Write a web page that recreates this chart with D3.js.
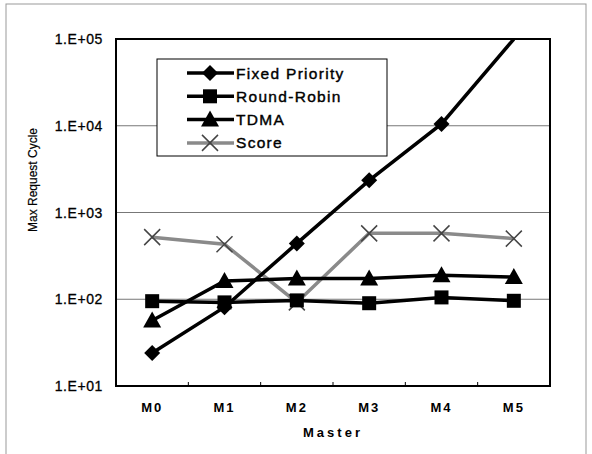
<!DOCTYPE html>
<html>
<head>
<meta charset="utf-8">
<script src="https://cdn.jsdelivr.net/npm/d3@7"></script>
<style>
  body { margin: 0; background: #fff; }
  text { font-family: Arial, "Liberation Sans", sans-serif; }
</style>
</head>
<body>
<svg id="svg" width="592" height="454"></svg>
<script>
// data
var masters = ['M0', 'M1', 'M2', 'M3', 'M4', 'M5'];
var fixedPriority = [24, 81, 440, 2350, 10500, 100000];
var roundRobin = [95, 92, 97, 90, 105, 96];
var tdma = [57, 162, 174, 174, 189, 180];
var score = [520, 430, 92, 575, 575, 500];
var yTicks = [1e1, 1e2, 1e3, 1e4, 1e5];
var tickLabels = ['1.E+01', '1.E+02', '1.E+03', '1.E+04', '1.E+05'];

var seriesList = [
  {name: 'Fixed Priority', values: fixedPriority, color: '#000', marker: 'diamond'},
  {name: 'Round-Robin', values: roundRobin, color: '#000', marker: 'square'},
  {name: 'TDMA', values: tdma, color: '#000', marker: 'triangle'},
  {name: 'Score', values: score, color: '#8a8a8a', marker: 'cross'}
];

var svg = d3.select('svg');

// outer frame
svg.append('rect')
  .attr('x', 6).attr('y', 4)
  .attr('width', 580).attr('height', 452)
  .attr('fill', 'none')
  .attr('stroke', '#999')
  .attr('stroke-width', 1);

var plotLeft = 116, plotTop = 39, plotRight = 550, plotBottom = 386;

var xScale = d3.scaleBand()
  .domain(masters)
  .range([plotLeft, plotRight]);

var yScale = d3.scaleLog()
  .domain([10, 100000])
  .range([plotBottom, plotTop]);

// grid lines
svg.append('g')
  .selectAll('line')
  .data(yTicks.slice(1, 4))
  .enter()
  .append('line')
  .attr('x1', plotLeft).attr('x2', plotRight)
  .attr('y1', (d) => yScale(d)).attr('y2', (d) => yScale(d))
  .attr('stroke', '#777')
  .attr('stroke-width', 1);

// y axis labels
svg.append('g')
  .selectAll('text')
  .data(yTicks)
  .enter()
  .append('text')
  .attr('x', 103)
  .attr('y', (d) => yScale(d) + 5)
  .attr('text-anchor', 'end')
  .attr('font-size', 14)
  .attr('letter-spacing', 0.6)
  .attr('stroke', '#000')
  .attr('stroke-width', 0.3)
  .attr('fill', '#000')
  .text((d, i) => tickLabels[i]);

// x axis labels
svg.append('g')
  .selectAll('text')
  .data(masters)
  .enter()
  .append('text')
  .attr('x', (d) => xScale(d) + xScale.bandwidth() / 2)
  .attr('y', 412)
  .attr('text-anchor', 'middle')
  .attr('font-size', 13)
  .attr('font-weight', 'bold')
  .attr('letter-spacing', 2)
  .text((d) => d);

// small tick marks on the bottom
svg.append('g')
  .selectAll('line')
  .data(masters.slice(1))
  .enter()
  .append('line')
  .attr('x1', (d) => xScale(d)).attr('x2', (d) => xScale(d))
  .attr('y1', plotBottom).attr('y2', plotBottom - 4)
  .attr('stroke', '#000');

svg.append('clipPath')
  .attr('id', 'plotClip')
  .append('rect')
  .attr('x', plotLeft).attr('y', plotTop)
  .attr('width', plotRight - plotLeft).attr('height', plotBottom - plotTop);

var plot = svg.append('g').attr('clip-path', 'url(#plotClip)');

var line = d3.line()
  .x((d, i) => xScale(masters[i]) + xScale.bandwidth() / 2)
  .y((d) => yScale(d));

function drawMarker(g, type, x, y, color) {
  if (type == 'diamond') {
    g.append('path')
      .attr('d', `M${x},${y - 8}L${x + 8},${y}L${x},${y + 8}L${x - 8},${y}Z`)
      .attr('fill', color);
  } else if (type == 'square') {
    g.append('rect')
      .attr('x', x - 7).attr('y', y - 7)
      .attr('width', 14).attr('height', 14)
      .attr('fill', color);
  } else if (type == 'triangle') {
    g.append('path')
      .attr('d', `M${x},${y - 9}L${x + 9},${y + 7}L${x - 9},${y + 7}Z`)
      .attr('fill', color);
  } else {
    g.append('path')
      .attr('d', `M${x - 8},${y - 8}L${x + 8},${y + 8}M${x + 8},${y - 8}L${x - 8},${y + 8}`)
      .attr('stroke', '#444')
      .attr('stroke-width', 1.5);
  }
}

// draw score first so black lines sit on top
[3, 1, 2, 0].forEach((k) => {
  var s = seriesList[k];
  plot.append('path')
    .datum(s.values)
    .attr('d', line)
    .attr('fill', 'none')
    .attr('stroke', s.color)
    .attr('stroke-width', 3.5);
  s.values.forEach((v, i) => {
    if (k == 0 && i == 5) return;
    drawMarker(plot, s.marker, xScale(masters[i]) + xScale.bandwidth() / 2, yScale(v), s.color);
  });
});

// plot frame
svg.append('rect')
  .attr('x', plotLeft).attr('y', plotTop)
  .attr('width', plotRight - plotLeft).attr('height', plotBottom - plotTop)
  .attr('fill', 'none')
  .attr('stroke', '#000')
  .attr('stroke-width', 2);

// legend
var legend = svg.append('g');
legend.append('rect')
  .attr('x', 157).attr('y', 59)
  .attr('width', 230).attr('height', 97)
  .attr('fill', '#fff')
  .attr('stroke', '#000')
  .attr('stroke-width', 1);

seriesList.forEach((s, i) => {
  var y = 73 + i * 23.3;
  legend.append('line')
    .attr('x1', 187).attr('x2', 234)
    .attr('y1', y).attr('y2', y)
    .attr('stroke', s.color)
    .attr('stroke-width', 3.5);
  drawMarker(legend, s.marker, 210, y, s.color);
  legend.append('text')
    .attr('x', 236)
    .attr('y', y + 5.5)
    .attr('font-size', 15.5)
    .attr('letter-spacing', 1.3)
    .attr('stroke', '#000')
    .attr('stroke-width', 0.4)
    .text(s.name);
});

// axis titles
svg.append('text')
  .attr('transform', 'translate(37, 180) rotate(-90)')
  .attr('text-anchor', 'middle')
  .attr('font-size', 12)
  .attr('stroke', '#000')
  .attr('stroke-width', 0.2)
  .text('Max Request Cycle');

svg.append('text')
  .attr('x', 333)
  .attr('y', 437)
  .attr('text-anchor', 'middle')
  .attr('font-size', 13)
  .attr('font-weight', 'bold')
  .attr('letter-spacing', 3)
  .text('Master');
</script>
</body>
</html>
